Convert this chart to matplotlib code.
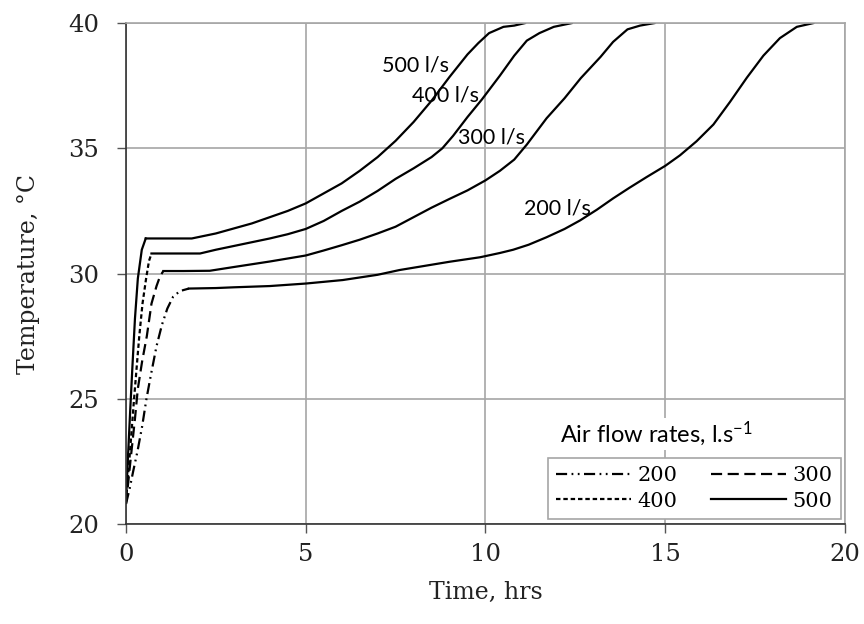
import matplotlib
matplotlib.use('Agg')
import matplotlib.pyplot as plt
import numpy as np

# time (hrs) and temperature (degC), one pair per air flow rate
t_200 = [0, 0.1, 0.2, 0.32, 0.45, 0.57, 0.7, 0.85, 1.0, 1.15, 1.31, 1.5, 1.75,
         2.5, 3.0, 4.0, 5.0, 6.03, 7.0, 7.61, 8.2, 9.0, 9.85, 10.4, 10.77, 11.2,
         11.7, 12.2, 12.63, 13.1, 13.55, 14.0, 14.48, 15.0, 15.41, 15.87, 16.34,
         16.8, 17.27, 17.73, 18.19, 18.66, 19.12]
T_200 = [20.8, 21.4, 22.1, 22.9, 23.9, 25.0, 26.0, 27.1, 27.95, 28.6, 29.07, 29.3, 29.4,
         29.42, 29.45, 29.5, 29.6, 29.74, 29.95, 30.14, 30.28, 30.47, 30.65, 30.82, 30.95, 31.15,
         31.45, 31.78, 32.12, 32.55, 33.0, 33.42, 33.85, 34.3, 34.72, 35.28, 35.95,
         36.85, 37.82, 38.7, 39.4, 39.85, 40.0]

t_300 = [0, 0.08, 0.16, 0.25, 0.33, 0.45, 0.58, 0.71, 0.85, 0.95, 1.04,
         1.6, 2.33, 3.0, 3.5, 4.0, 4.5, 5.0, 5.5, 6.0, 6.5, 7.0, 7.5, 8.0, 8.5, 9.0,
         9.5, 10.0, 10.4, 10.8, 11.15, 11.7, 12.2, 12.65, 13.2, 13.55, 13.95, 14.3, 14.7]
T_300 = [20.8, 21.9, 23.0, 24.2, 25.4, 26.5, 27.5, 28.8, 29.5, 29.9, 30.1,
         30.1, 30.11, 30.26, 30.37, 30.48, 30.6, 30.72, 30.92, 31.13, 31.35, 31.6, 31.87, 32.25, 32.63, 32.98,
         33.32, 33.72, 34.1, 34.55, 35.15, 36.2, 37.0, 37.8, 38.65, 39.25, 39.75, 39.9, 40.0]

t_400 = [0, 0.08, 0.15, 0.22, 0.3, 0.37, 0.46, 0.56, 0.64, 0.71,
         1.2, 2.06, 2.5, 3.0, 3.5, 4.0, 4.5, 5.0, 5.5, 6.0, 6.5, 7.0, 7.5, 8.0, 8.5,
         8.8, 9.1, 9.5, 9.9, 10.4, 10.8, 11.15, 11.5, 11.9, 12.4]
T_400 = [20.9, 22.3, 23.6, 24.9, 26.3, 27.5, 28.8, 29.8, 30.5, 30.8,
         30.8, 30.8, 30.95, 31.1, 31.25, 31.4, 31.57, 31.78, 32.1, 32.5, 32.87, 33.3, 33.78, 34.2, 34.65,
         35.0, 35.5, 36.25, 36.95, 37.9, 38.7, 39.3, 39.6, 39.85, 40.0]

t_500 = [0, 0.06, 0.12, 0.18, 0.25, 0.33, 0.44, 0.55,
         1.0, 1.5, 1.83, 2.5, 3.0, 3.5, 4.0, 4.5, 5.0, 5.5, 6.0, 6.5, 7.0, 7.5, 8.0,
         8.5, 9.0, 9.5, 9.8, 10.1, 10.5, 10.8, 11.1]
T_500 = [20.9, 22.8, 24.6, 26.3, 28.2, 29.8, 30.95, 31.4,
         31.4, 31.4, 31.4, 31.6, 31.8, 32.0, 32.25, 32.5, 32.8, 33.2, 33.6, 34.1, 34.65, 35.3, 36.05,
         36.9, 37.85, 38.75, 39.2, 39.6, 39.85, 39.9, 40.0]

flows = ['200', '300', '400', '500']
times = [t_200, t_300, t_400, t_500]
temps = [T_200, T_300, T_400, T_500]
curve_labels = ['200 l/s', '300 l/s', '400 l/s', '500 l/s']
label_pos = [(11.99, 32.6), (10.18, 35.44), (8.9, 37.12), (8.04, 38.32)]

dashes = {'200': (0, (5, 2, 0.8, 2, 0.8, 2)),
          '300': (0, (5, 2.5)),
          '400': (0, (2, 1.3)),
          '500': '-'}

plt.rcParams['mathtext.default'] = 'regular'
serif = 'DejaVu Serif'
sans = 'Lato'

fig = plt.figure(figsize=(8.64, 6.24), dpi=100)
ax = fig.add_axes([0.1458, 0.1603, 0.8322, 0.8027])

lines = {}
for f, t, T in zip(flows, times, temps):
    t = np.array(t)
    T = np.array(T)
    # first point where the warm-up ramp flattens onto the plateau
    k = np.argmax(np.diff(T) < 0.05)
    ln, = ax.plot(t[:k + 1], T[:k + 1], color='black', lw=1.6, linestyle=dashes[f], label=f)
    ax.plot(t[k:], T[k:], color='black', lw=1.6)
    lines[f] = ln

for txt, (x, y) in zip(curve_labels, label_pos):
    ax.text(x, y, txt, fontsize=15.5, family=sans, ha='center', va='center')

ax.set_xlim(0, 20)
ax.set_ylim(20, 40)
ax.set_xticks([0, 5, 10, 15, 20])
ax.set_yticks([20, 25, 30, 35, 40])
ax.grid(True, color='#a6a6a6', lw=1.2)
ax.set_axisbelow(True)
for s in ['top', 'right']:
    ax.spines[s].set_color('#a6a6a6')
    ax.spines[s].set_linewidth(1.2)
for s in ['left', 'bottom']:
    ax.spines[s].set_color('#333333')
    ax.spines[s].set_linewidth(1.2)

ax.tick_params(direction='out', length=6.5, width=1, color='#555555', labelsize=17.5,
               labelcolor='#222222', pad=7)
ax.tick_params(axis='y', pad=13)
for lab in ax.get_xticklabels() + ax.get_yticklabels():
    lab.set_family(serif)

ax.set_xlabel('Time, hrs', fontsize=17, family=serif, labelpad=11, color='#222222')
ax.set_ylabel('Temperature, °C', fontsize=17, family=serif, labelpad=20, color='#222222')

leg = ax.legend([lines['200'], lines['400'], lines['300'], lines['500']],
                ['200', '400', '300', '500'],
                ncol=2, loc='lower right', bbox_to_anchor=(0.994, 0.01),
                prop={'family': serif, 'size': 15}, handlelength=3.6,
                columnspacing=1.6, handletextpad=0.3, labelspacing=0.3,
                borderpad=0.4, borderaxespad=0, fancybox=False, framealpha=1,
                edgecolor='#a6a6a6')
leg.get_frame().set_linewidth(1.2)

ax.text(12.06, 23.6, 'Air flow rates, l.s$^{-1}$', fontsize=17, family=sans,
        ha='left', va='center', bbox=dict(facecolor='white', edgecolor='none', pad=1))

fig.savefig('out.png', dpi=100)
